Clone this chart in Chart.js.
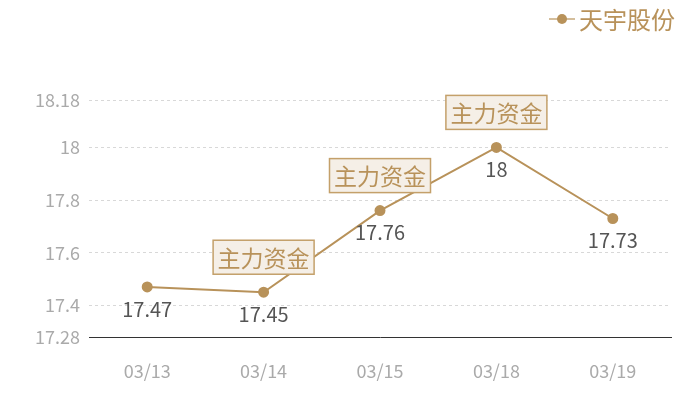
<!DOCTYPE html>
<html><head><meta charset="utf-8">
<script src="https://cdn.jsdelivr.net/npm/chart.js@4"></script>
<style>html,body{margin:0;padding:0;background:#fff}#wrap{width:700px;height:400px}</style>
</head><body><div id="wrap"><canvas id="c"></canvas></div>
<script>
const categories = ["03/13","03/14","03/15","03/18","03/19"];
const prices = [17.47,17.45,17.76,18,17.73];
const yTicks = [17.28,17.4,17.6,17.8,18,18.18];
const markIdx = [1,2,3];
const markText = "主力资金";
const seriesName = "天宇股份";
const GOLD = "#b8925a";
const FONT = "'Noto Sans CJK SC','Noto Sans',sans-serif";

const overlay = {
  id:'overlay',
  afterDatasetsDraw(chart){
    const ctx = chart.ctx;
    const meta = chart.getDatasetMeta(0);
    ctx.save();
    // value labels
    ctx.font = "20px " + FONT;
    ctx.fillStyle = "#555";
    ctx.textAlign = "center";
    ctx.textBaseline = "middle";
    meta.data.forEach((p,i)=>{
      ctx.fillText(String(prices[i]), p.x, p.y + 22);
    });
    // annotation boxes
    ctx.font = "23px " + FONT;
    markIdx.forEach(i=>{
      const p = meta.data[i];
      const w = 101, h = 34;
      const cx = p.x, cy = p.y - 35;
      ctx.fillStyle = "#f5efe7";
      ctx.fillRect(cx - w/2, cy - h/2, w, h);
      ctx.strokeStyle = "#c4a06a";
      ctx.lineWidth = 1.5;
      ctx.strokeRect(cx - w/2, cy - h/2, w, h);
      ctx.fillStyle = GOLD;
      ctx.fillText(markText, cx, cy + 1);
    });
    // legend
    const lx = 549, ly = 19;
    ctx.strokeStyle = GOLD; ctx.lineWidth = 2;
    ctx.globalAlpha = 0.6;
    ctx.beginPath(); ctx.moveTo(lx, ly); ctx.lineTo(lx+26, ly); ctx.stroke();
    ctx.globalAlpha = 1;
    ctx.fillStyle = GOLD;
    ctx.beginPath(); ctx.arc(lx+13, ly, 5, 0, Math.PI*2); ctx.fill();
    ctx.font = "24px " + FONT;
    ctx.textAlign = "left";
    ctx.fillText(seriesName, lx+30, ly+1);
    ctx.restore();
  }
};

new Chart(document.getElementById('c'), {
  type:'line',
  data:{labels:categories, datasets:[{label:seriesName, data:prices, borderColor:GOLD, backgroundColor:GOLD, borderWidth:2, pointRadius:4.5, pointHoverRadius:4.5, tension:0}]},
  options:{
    responsive:true, maintainAspectRatio:false, animation:false,
    layout:{padding:{top:100,right:29,left:0,bottom:0}},
    plugins:{legend:{display:false}, tooltip:{enabled:false}},
    scales:{
      x:{
        offset:true,
        grid:{display:false, drawTicks:false},
        border:{display:true, color:'#333', width:1},
        ticks:{color:'#aaa', font:{size:18, family:FONT}, padding:23},
        afterFit(s){ s.height = 63; }
      },
      y:{
        min:17.28, max:18.18,
        afterBuildTicks(s){ s.ticks = yTicks.map(v=>({value:v})); },
        grid:{color:(c)=> c.tick && c.tick.value===17.28 ? 'rgba(0,0,0,0)' : '#d8d8d8', drawTicks:false, lineWidth:1},
        border:{display:false, dash:[3,3]},
        ticks:{color:'#aaa', font:{size:18, family:FONT}, padding:9, callback:(v)=>String(v)},
        afterFit(s){ s.width = 89; }
      }
    }
  },
  plugins:[overlay]
});
</script></body></html>
